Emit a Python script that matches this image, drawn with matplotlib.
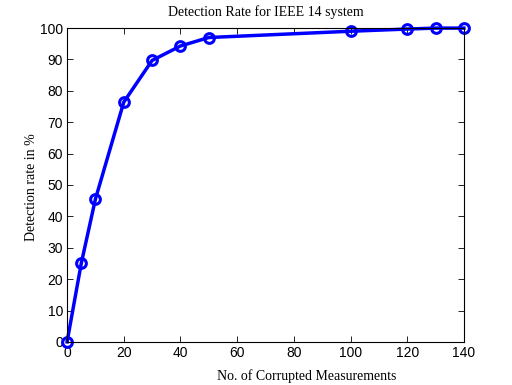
import matplotlib
matplotlib.use("Agg")
import matplotlib.pyplot as plt

# number of corrupted measurements vs detection rate
n_corrupted = [0, 5, 10, 20, 30, 40, 50, 100, 120, 130, 140]
detection_rate = [0, 25, 45.5, 76.4, 89.7, 94.3, 97, 99, 99.7, 100, 100]

fig = plt.figure(figsize=(5.12, 3.85), dpi=100)
ax = fig.add_axes([0.131, 0.112, 0.775, 0.815])

ax.plot(n_corrupted, detection_rate, color="#0000ff", linewidth=2.5,
        marker="o", markersize=7, markerfacecolor="none",
        markeredgewidth=2.2, markeredgecolor="#0000ff", clip_on=False)

ax.set_xlim(0, 140)
ax.set_ylim(0, 100)
ax.set_xticks(range(0, 141, 20))
ax.set_yticks(range(0, 101, 10))
ax.tick_params(direction="in", length=4, width=0.6, labelsize=10,
               top=True, right=True, pad=3)
for lbl in ax.get_xticklabels() + ax.get_yticklabels():
    lbl.set_family(["Liberation Sans", "DejaVu Sans"])
for s in ax.spines.values():
    s.set_linewidth(0.8)

serif = ["Liberation Serif", "DejaVu Serif"]
ax.set_title("Detection Rate for IEEE 14 system", fontsize=10, family=serif, pad=9)
ax.set_xlabel("No. of Corrupted Measurements", fontsize=10, family=serif)
ax.set_ylabel("Detection rate in %", fontsize=10, family=serif)
ax.xaxis.set_label_coords(0.605, -0.086)
ax.yaxis.set_label_coords(-0.074, 0.494)

fig.savefig("out.png", dpi=100)
